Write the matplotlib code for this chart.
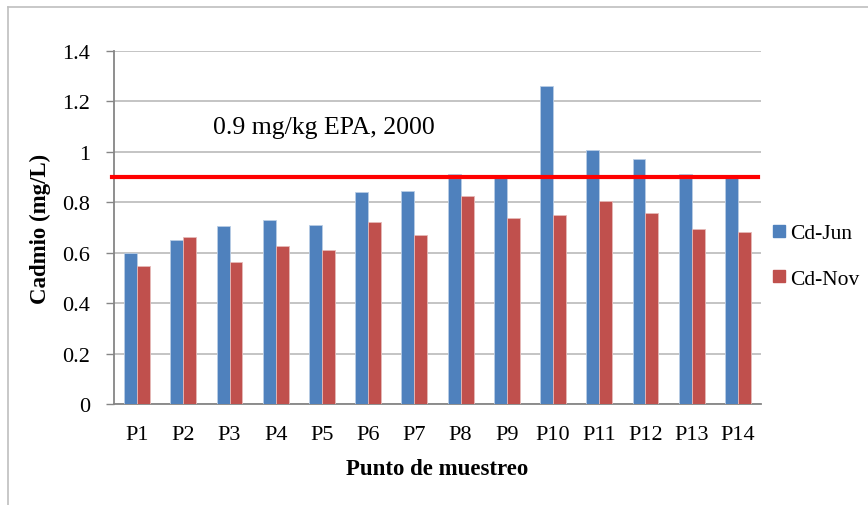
import numpy as np
import matplotlib
matplotlib.use("Agg")
import matplotlib.pyplot as plt
from matplotlib.lines import Line2D

plt.rcParams['font.family'] = ['Liberation Serif', 'DejaVu Serif']

# data
puntos = ["P1", "P2", "P3", "P4", "P5", "P6", "P7",
          "P8", "P9", "P10", "P11", "P12", "P13", "P14"]
cd_jun = [0.60, 0.652, 0.707, 0.731, 0.709, 0.841, 0.845,
          0.914, 0.90, 1.26, 1.009, 0.972, 0.913, 0.90]
cd_nov = [0.548, 0.663, 0.565, 0.626, 0.611, 0.721, 0.671,
          0.826, 0.739, 0.748, 0.807, 0.756, 0.694, 0.683]
limite = 0.9
limite_txt = "0.9 mg/kg EPA, 2000"

W, H = 868, 506
fig = plt.figure(figsize=(W / 100, H / 100), dpi=100)
ax = fig.add_axes([114 / W, 1 - 405 / H, (761 - 114) / W, (405 - 52) / H])

x = np.arange(len(puntos))
bw = 0.28
ax.bar(x - bw / 2, cd_jun, bw, color="#4F81BD", edgecolor="#B9CDE5",
       linewidth=0.6, label="Cd-Jun", zorder=3)
ax.bar(x + bw / 2, cd_nov, bw, color="#C0504D", edgecolor="#E6B9B8",
       linewidth=0.6, label="Cd-Nov", zorder=3)

ax.set_xlim(-0.5, len(puntos) - 0.5)
ax.set_ylim(0, 1.4)
ax.set_yticks(np.arange(0, 1.41, 0.2))
ax.set_yticklabels(["0", "0.2", "0.4", "0.6", "0.8", "1", "1.2", "1.4"])
ax.set_xticks(x)
ax.set_xticklabels(puntos)
ax.tick_params(axis="y", labelsize=16, length=6, width=1, color="#868686", pad=11)
ax.tick_params(axis="x", labelsize=16, length=0, pad=15)

ax.grid(axis="y", color="#BFBFBF", linewidth=1.3, zorder=0)
ax.set_axisbelow(True)
for s in ["top", "right"]:
    ax.spines[s].set_visible(False)
ax.spines["left"].set_color("#868686")
ax.spines["bottom"].set_color("#868686")
ax.spines["left"].set_linewidth(1.3)
ax.spines["bottom"].set_linewidth(1.3)

# limit line
ax.plot([-0.55, len(puntos) - 0.56], [limite, limite], color="#FF0000",
        linewidth=3, zorder=4, clip_on=False)
ax.text(1.64, 1.10, limite_txt, fontsize=18.5, va="center", ha="left")

ax.set_ylabel("Cadmio (mg/L)", fontsize=16.5, fontweight="bold", labelpad=8)
ax.set_xlabel("Punto de muestreo", fontsize=16.5, fontweight="bold", labelpad=10)

handles = [Line2D([], [], marker="s", linestyle="none", markersize=8,
                  color="#4F81BD"),
           Line2D([], [], marker="s", linestyle="none", markersize=8,
                  color="#C0504D")]
fig.legend(handles, ["Cd-Jun", "Cd-Nov"], loc="center left",
           bbox_to_anchor=(773 / W, 1 - 257 / H), frameon=False,
           borderpad=0, borderaxespad=0,
           fontsize=15.5, handletextpad=0.2, labelspacing=1.2, handlelength=0.6)

# outer chart border
fig.add_artist(Line2D([8 / W, 8 / W], [0, 1 - 8 / H], color="#BFBFBF",
                      linewidth=1.2, transform=fig.transFigure))
fig.add_artist(Line2D([8 / W, 1], [1 - 8 / H, 1 - 8 / H], color="#BFBFBF",
                      linewidth=1.2, transform=fig.transFigure))

fig.savefig("out.png", dpi=100)
